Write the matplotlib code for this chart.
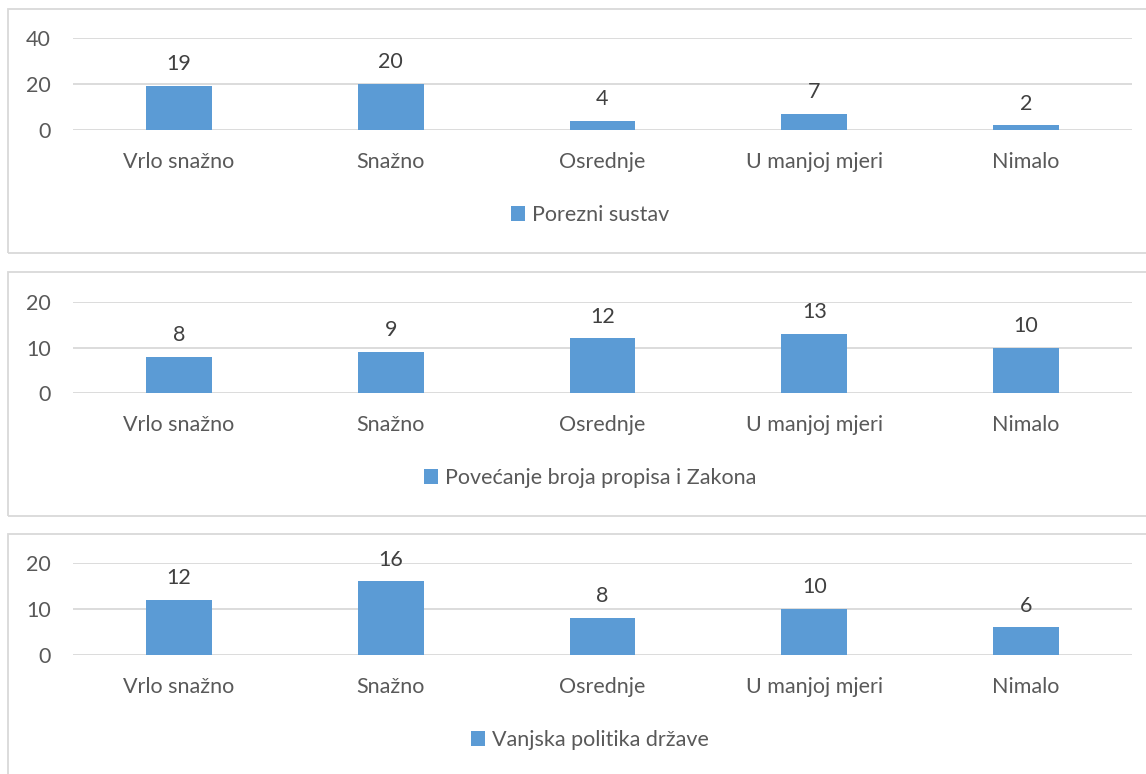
import matplotlib.pyplot as plt
from matplotlib.patches import Rectangle

categories = ['Vrlo snažno', 'Snažno', 'Osrednje', 'U manjoj mjeri', 'Nimalo']
porezni = [19, 20, 4, 7, 2]
propisi = [8, 9, 12, 13, 10]
politika = [12, 16, 8, 10, 6]
series_names = ['Porezni sustav', 'Povećanje broja propisa i Zakona', 'Vanjska politika države']
y_max = [40, 20, 20]
y_step = [20, 10, 10]

W, H = 1146, 774
bar_color = '#5B9BD5'
grid_color = '#D9D9D9'
text_color = '#595959'
fs = 15.5

plt.rcParams['font.family'] = ['Lato', 'DejaVu Sans']

fig = plt.figure(figsize=(W / 100, H / 100), dpi=100)

# panel frames (pixel coords from top): top, bottom
frames = [(9, 253), (272, 516), (534, 790)]
# plot area: y of top gridline and zero line
areas = [(38, 130), (302, 393), (563, 655)]
legend_y = [215, 478, 740]

data = [porezni, propisi, politika]
for i in range(3):
    top, bot = frames[i]
    fig.add_artist(Rectangle((8 / W, 1 - bot / H), 1.0, (bot - top) / H,
                             transform=fig.transFigure, fill=False,
                             edgecolor=grid_color, linewidth=1.3))
    gt, g0 = areas[i]
    ax = fig.add_axes([73 / W, 1 - g0 / H, (1132 - 73) / W, (g0 - gt) / H])
    x = range(len(categories))
    bars = ax.bar(x, data[i], width=0.31, color=bar_color, zorder=3,
                  label=series_names[i])
    for xi, v in zip(x, data[i]):
        ax.annotate(str(v), (xi, v), xytext=(0, 8.5), textcoords='offset points',
                    ha='center', va='bottom', fontsize=fs, color='#404040')
    ax.set_xlim(-0.5, 4.5)
    ax.set_ylim(0, y_max[i])
    ax.set_yticks(range(0, y_max[i] + 1, y_step[i]))
    ax.set_xticks(list(x))
    ax.set_xticklabels(categories)
    ax.tick_params(axis='both', length=0, labelsize=fs, colors=text_color)
    ax.tick_params(axis='x', pad=16)
    ax.tick_params(axis='y', pad=16)
    for s in ax.spines.values():
        s.set_visible(False)
    ax.grid(axis='y', color=grid_color, linewidth=1.3, zorder=0)
    ax.set_axisbelow(True)
    fig.legend(handles=[bars], labels=[series_names[i]], loc='center',
               bbox_to_anchor=(590 / W, 1 - legend_y[i] / H), frameon=False,
               fontsize=fs, labelcolor=text_color, handlelength=0.65,
               handleheight=0.65, handletextpad=0.3)

fig.savefig('out.png', dpi=100, facecolor='white')
